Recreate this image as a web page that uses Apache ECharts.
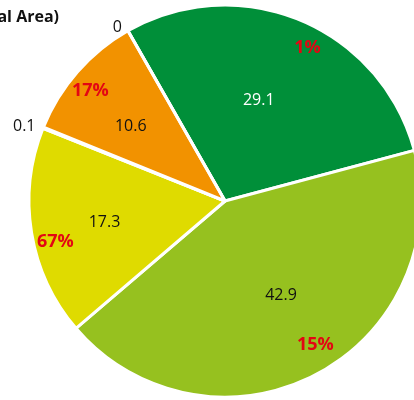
<!DOCTYPE html>
<html><head><meta charset="utf-8">
<script src="https://cdn.jsdelivr.net/npm/echarts@6/dist/echarts.min.js"></script>
<style>html,body{margin:0;padding:0;background:#fff}#c{width:414px;height:400px}</style>
</head><body><div id="c"></div>
<script>
const categories = ['A', 'B', 'C', 'D', 'E', 'F'];
const values = [29.1, 42.9, 17.3, 0.1, 10.6, 0];
const shares = ['1%', '15%', '67%', '', '17%', ''];
const titleText = '(% of Total Area)';

// styles
const colors = ['#008f39', '#96c11f', '#dfdb00', '#e8b800', '#f29200', '#ffffff'];
const valueLabelColors = ['#ffffff', '#111111', '#111111', '#111111', '#111111', '#111111'];
const valueOffsets = [[-11, 6], [2, -8], [-6, 3], [0, 0], [-7, 2], [0, 0]];
const shareOffsets = [[15, 8], [9, -11], [3, 12], [0, 0], [-3, 5], [0, 0]];

const FONT = '"Open Sans", "Noto Sans", sans-serif';
const center = [225, 201];
const R = 196;
const START = 119.7;

const chart = echarts.init(document.getElementById('c'), null, {renderer: 'canvas'});
const small = v => v < 1;

chart.setOption({
  animation: false,
  graphic: [{
    type: 'text', x: 59, y: 17,
    style: {text: titleText, align: 'right', verticalAlign: 'middle',
      font: 'bold 16px ' + FONT, fill: '#111'}
  }],
  series: [
    {
      type: 'pie', center: center, radius: [0, R], startAngle: START,
      clockwise: true, avoidLabelOverlap: false, silent: true,
      itemStyle: {borderColor: '#fff', borderWidth: 3},
      data: categories.map((c, i) => ({
        name: c, value: values[i],
        itemStyle: {color: colors[i]},
        label: {show: small(values[i]), position: 'outside', formatter: String(values[i]),
          fontFamily: FONT, fontSize: 16, color: '#111', distanceToLabelLine: 2},
        labelLine: {show: false, length: 4, length2: 2}
      }))
    },
    {
      type: 'pie', center: center, radius: [30, R], startAngle: START,
      clockwise: true, avoidLabelOverlap: false, silent: true,
      itemStyle: {color: 'rgba(0,0,0,0)'},
      data: categories.map((c, i) => ({
        name: c, value: values[i],
        label: {show: !small(values[i]), position: 'inside', formatter: String(values[i]),
          offset: valueOffsets[i],
          fontFamily: FONT, fontSize: 16, color: valueLabelColors[i]}
      }))
    },
    {
      type: 'pie', center: center, radius: [148, R], startAngle: START,
      clockwise: true, avoidLabelOverlap: false, silent: true,
      itemStyle: {color: 'rgba(0,0,0,0)'},
      data: categories.map((c, i) => ({
        name: c, value: values[i],
        label: {show: shares[i] !== '', position: 'inside', formatter: shares[i],
          offset: shareOffsets[i],
          fontFamily: FONT, fontSize: 18, fontWeight: 'bold', color: '#e30613'}
      }))
    }
  ]
});
</script></body></html>
